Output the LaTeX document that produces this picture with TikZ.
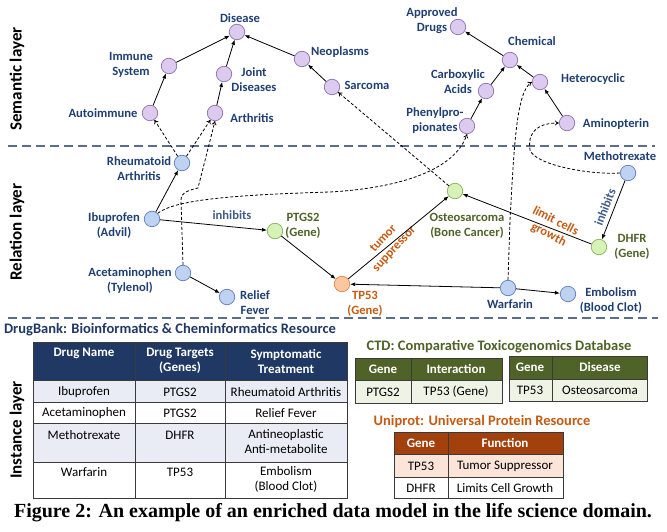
\documentclass[tikz,border=0pt]{standalone}
\usepackage{fontspec}
\setmainfont{Carlito}
\newfontfamily\capfont{Liberation Serif}
\usetikzlibrary{arrows.meta}
\definecolor{lblue}{HTML}{1F3F72}
\definecolor{lgreen}{HTML}{4F6228}
\definecolor{lorange}{HTML}{C55A11}
\definecolor{purpleL}{HTML}{DCCBEE}
\definecolor{purpleD}{HTML}{8E72B4}
\definecolor{blueL}{HTML}{BFD2F2}
\definecolor{blueD}{HTML}{5B7FC0}
\definecolor{greenL}{HTML}{D6F2B6}
\definecolor{greenD}{HTML}{86B35A}
\definecolor{orangeL}{HTML}{FAC8A0}
\definecolor{orangeD}{HTML}{E0894A}
\definecolor{sepcol}{HTML}{5A6E8C}
\definecolor{dbhead}{HTML}{203864}
\definecolor{dblight}{HTML}{E9ECF5}
\definecolor{ctdhead}{HTML}{4F6228}
\definecolor{ctdlight}{HTML}{EEF3E6}
\definecolor{uphead}{HTML}{A3410E}
\definecolor{uplight}{HTML}{FBE5D9}
\definecolor{tabline}{HTML}{3A3A3A}
\begin{document}
\begin{tikzpicture}[x=1pt,y=-1pt,
  cnode/.style={circle,minimum size=15.5pt,inner sep=0pt,line width=0.7pt},
  pnode/.style={cnode,draw=purpleD,fill=purpleL},
  bnode/.style={cnode,draw=blueD,fill=blueL},
  gnode/.style={cnode,draw=greenD,fill=greenL},
  onode/.style={cnode,draw=orangeD,fill=orangeL},
  lbl/.style={inner sep=0pt,align=center,text=lblue,font=\bfseries\fontsize{12.6}{15}\selectfont},
  glbl/.style={lbl,text=lgreen},
  olbl/.style={lbl,text=lorange},
  edge/.style={-{Latex[length=5pt,width=4pt]},line width=0.8pt},
  dedge/.style={-{To[length=4pt,width=5pt]},line width=0.8pt,dash pattern=on 3pt off 2pt},
  sep/.style={draw=sepcol,line width=1.3pt,dash pattern=on 9pt off 5pt},
  layer/.style={rotate=90,inner sep=0pt,font=\bfseries\fontsize{17}{20}\selectfont},
  tcell/.style={inner sep=0pt,align=center,font=\fontsize{13}{15}\selectfont},
  thead/.style={tcell,text=white,font=\bfseries\fontsize{13}{15}\selectfont},
  tline/.style={draw=tabline,line width=0.8pt},
  ttitle/.style={inner sep=0pt,font=\bfseries\fontsize{14.5}{16}\selectfont}]
\useasboundingbox (0,0) rectangle (667,532);

% separators
\draw[sep] (8,146) -- (655,146);
\draw[sep] (8,318) -- (658,318);

% layer labels
\node[layer] (L1) at (17,79) {Semantic layer};
\node[layer] (L2) at (17,232) {Relation layer};
\node[layer] (L3) at (17,430) {Instance layer};

% semantic nodes
\node[pnode] (dis) at (237,32) {};
\node[pnode] (imm) at (169,66) {};
\node[pnode] (joint) at (224,74) {};
\node[pnode] (neo) at (302,59) {};
\node[pnode] (auto) at (150,113) {};
\node[pnode] (arth) at (215,113) {};
\node[pnode] (sarc) at (332,87) {};
\node[pnode] (appr) at (458,27) {};
\node[pnode] (chem) at (510,60) {};
\node[pnode] (carb) at (486,91) {};
\node[pnode] (het) at (540,82) {};
\node[pnode] (phen) at (467,126) {};
\node[pnode] (amin) at (567,123) {};

\node[lbl] (disL) at (240,18) {Disease};
\node[lbl] (immL) at (131,65) {Immune\\System};
\node[lbl] (jointL) at (254,80) {Joint\\Diseases};
\node[lbl] (neoL) at (340,52) {Neoplasms};
\node[lbl] (autoL) at (103,113) {Autoimmune};
\node[lbl] (arthL) at (252,118) {Arthritis};
\node[lbl] (sarcL) at (367,85) {Sarcoma};
\node[lbl] (apprL) at (432,21) {Approved\\Drugs};
\node[lbl] (chemL) at (532,41) {Chemical};
\node[lbl] (carbL) at (458,82) {Carboxylic\\Acids};
\node[lbl] (hetL) at (593,79) {Heterocyclic};
\node[lbl] (phenL) at (435,121) {Phenylpro-\\pionates};
\node[lbl] (aminL) at (616,124) {Aminopterin};

% relation nodes
\node[bnode] (ra) at (182,163) {};
\node[bnode] (ibu) at (152,219) {};
\node[gnode] (ptgs) at (275,231) {};
\node[bnode] (acet) at (183,273) {};
\node[bnode] (fever) at (227,297) {};
\node[onode] (tp53) at (342,284) {};
\node[gnode] (osteo) at (455,191) {};
\node[bnode] (meth) at (628,173) {};
\node[gnode] (dhfr) at (599,247) {};
\node[bnode] (warf) at (508,288) {};
\node[bnode] (emb) at (568,294) {};

\node[lbl] (raL) at (139,169) {Rheumatoid\\Arthritis};
\node[lbl] (ibuL) at (114,226) {Ibuprofen\\(Advil)};
\node[glbl] (ptgsL) at (303,226) {PTGS2\\(Gene)};
\node[lbl] (acetL) at (130,281) {Acetaminophen\\(Tylenol)};
\node[lbl] (feverL) at (255,303) {Relief\\Fever};
\node[olbl] (tp53L) at (365,304) {TP53\\(Gene)};
\node[glbl] (osteoL) at (467,226) {Osteosarcoma\\(Bone Cancer)};
\node[lbl] (methL) at (620,156) {Methotrexate};
\node[glbl] (dhfrL) at (632,247) {DHFR\\(Gene)};
\node[lbl] (warfL) at (510,304) {Warfarin};
\node[lbl] (embL) at (611,301) {Embolism\\(Blood Clot)};

\node[lbl,text=lblue!85!white] (inh1) at (232,215) {inhibits};
\node[olbl,rotate=47] (tsup) at (389,244) {tumor\\suppressor};
\node[olbl,rotate=-27] (lcg) at (552,228) {limit cells\\growth};
\node[lbl,text=lblue!85!white,rotate=69] (inh2) at (605,207) {inhibits};

% semantic edges
\draw[edge] (imm) -- (dis);
\draw[edge] (joint) -- (dis);
\draw[edge] (neo) -- (dis);
\draw[edge] (auto) -- (imm);
\draw[edge] (arth) -- (joint);
\draw[edge] (sarc) -- (neo);
\draw[edge] (chem) -- (appr);
\draw[edge] (carb) -- (chem);
\draw[edge] (phen) -- (carb);
\draw[edge] (het) -- (chem);
\draw[edge] (amin) -- (het);

% relation edges
\draw[edge] (ibu) -- (ra);
\draw[edge] (ibu) -- (ptgs);
\draw[edge] (ptgs) -- (tp53);
\draw[edge] (acet) -- (fever);
\draw[edge] (tp53) -- (osteo);
\draw[edge] (dhfr) -- (osteo);
\draw[edge] (meth) -- (dhfr);
\draw[edge] (warf) -- (tp53);
\draw[edge] (warf) -- (emb);

% dashed cross-layer edges
\draw[dedge] (ra) -- (auto);
\draw[dedge] (ra) -- (arth);
\draw[dedge] (acet.north) -- (181,200) .. controls (181,192) and (190,190) .. (198,188) -- (arth.south);
\draw[dedge] (ibu.north east) .. controls (175,200) and (230,195) .. (330,192) .. controls (400,188) and (455,170) .. (phen.south);
\draw[dedge] (osteo) -- (sarc);
\draw[dedge] (warf.north) -- (510,220) .. controls (514,150) and (516,92) .. (het.west);
\draw[dedge] (meth.west) .. controls (590,175) and (535,165) .. (530,150) .. controls (527,130) and (540,123) .. (amin.west);

% DrugBank table
\node[ttitle,text=dbhead] (dbT) at (170,330) {DrugBank: Bioinformatics \& Cheminformatics Resource};
\fill[dbhead] (33,342) rectangle (347,380);
\fill[dblight] (33,380) rectangle (347,402);
\fill[dblight] (33,423) rectangle (347,462);
\draw[tline] (33,342) rectangle (347,498);
\foreach \yy in {380,402,423,462} \draw[tline] (33,\yy) -- (347,\yy);
\foreach \xx in {135,225} \draw[tline] (\xx,342) -- (\xx,498);
\node[thead] (dbh1) at (84,353) {Drug Name};
\node[thead] (dbh2) at (180,361) {Drug Targets\\(Genes)};
\node[thead] (dbh3) at (286,361) {Symptomatic\\Treatment};
\node[tcell] (db11) at (84,392) {Ibuprofen};
\node[tcell] (db12) at (180,392) {PTGS2};
\node[tcell] (db13) at (286,392) {Rheumatoid Arthritis};
\node[tcell] (db21) at (84,413) {Acetaminophen};
\node[tcell] (db22) at (180,413) {PTGS2};
\node[tcell] (db23) at (286,413) {Relief Fever};
\node[tcell] (db31) at (84,435) {Methotrexate};
\node[tcell] (db32) at (180,435) {DHFR};
\node[tcell] (db33) at (286,442) {Antineoplastic\\Anti-metabolite};
\node[tcell] (db41) at (84,472) {Warfarin};
\node[tcell] (db42) at (180,472) {TP53};
\node[tcell] (db43) at (286,479) {Embolism\\(Blood Clot)};

% CTD tables
\node[ttitle,text=ctdhead] (ctdT) at (499,347) {CTD: Comparative Toxicogenomics Database};
\fill[ctdhead] (355,358) rectangle (502,380);
\fill[ctdlight] (355,380) rectangle (502,403);
\draw[tline] (355,358) rectangle (502,403);
\draw[tline] (355,380) -- (502,380);
\draw[tline] (411,358) -- (411,403);
\node[thead] (c1h1) at (383,369) {Gene};
\node[thead] (c1h2) at (456,369) {Interaction};
\node[tcell] (c1a) at (383,392) {PTGS2};
\node[tcell] (c1b) at (456,392) {TP53 (Gene)};

\fill[ctdhead] (509,356) rectangle (647,379);
\fill[ctdlight] (509,379) rectangle (647,401);
\draw[tline] (509,356) rectangle (647,401);
\draw[tline] (509,379) -- (647,379);
\draw[tline] (552,356) -- (552,401);
\node[thead] (c2h1) at (530,367) {Gene};
\node[thead] (c2h2) at (600,367) {Disease};
\node[tcell] (c2a) at (530,390) {TP53};
\node[tcell] (c2b) at (600,390) {Osteosarcoma};

% Uniprot table
\node[ttitle,text=lorange] (upT) at (482,422) {Uniprot: Universal Protein Resource};
\fill[uphead] (394,432) rectangle (563,454);
\fill[uplight] (394,454) rectangle (563,477);
\draw[tline] (394,432) rectangle (563,498);
\foreach \yy in {454,477} \draw[tline] (394,\yy) -- (563,\yy);
\draw[tline] (448,432) -- (448,498);
\node[thead] (uh1) at (421,443) {Gene};
\node[thead] (uh2) at (505,443) {Function};
\node[tcell] (u11) at (421,466) {TP53};
\node[tcell] (u12) at (505,466) {Tumor Suppressor};
\node[tcell] (u21) at (421,488) {DHFR};
\node[tcell] (u22) at (505,488) {Limits Cell Growth};

% caption
\node[inner sep=0pt,font=\capfont\bfseries\fontsize{20}{22}\selectfont] (cap) at (333,513) {Figure 2: An example of an enriched data model in the life science domain.};
\end{tikzpicture}
\end{document}
